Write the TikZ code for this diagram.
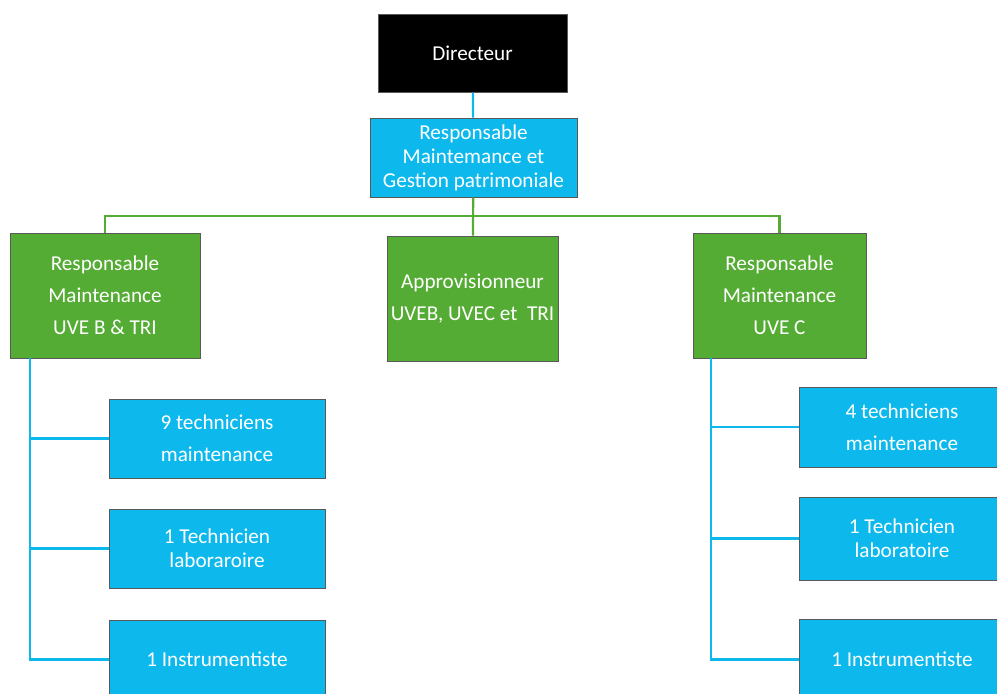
\documentclass[tikz,border=0pt]{standalone}
\usepackage{fontspec}
\setmainfont{Carlito}
\usepackage{tikz}

\definecolor{bleu}{HTML}{0DB9EC}
\definecolor{vert}{HTML}{55AC34}

\begin{document}
\begin{tikzpicture}[% unités en pixels du modèle
    x=0.5pt,y=-0.5pt,
    boite/.style={
        draw=black!65,
        line width=0.5pt,
        text=white,
        align=center,
        inner sep=0pt,
        font=\fontsize{10.6}{12}\selectfont
      },
    bleue/.style={boite, fill=bleu},
    bleuelarge/.style={bleue, font=\fontsize{10.6}{16}\selectfont},
    verte/.style={boite, fill=vert, font=\fontsize{10.6}{16}\selectfont},
    lienvert/.style={draw=vert, line width=1.1pt},
    lienbleu/.style={draw=bleu, line width=1.1pt}
  ]

  % cadre
  \useasboundingbox (0,0) rectangle (997,693);
  \clip (0,0) rectangle (997,693);

  % direction
  \node[boite, fill=black, minimum width=94.5pt, minimum height=39pt]
    (dir) at (472.5,53) {Directeur};
  \node[bleue, minimum width=103.5pt, minimum height=39.5pt]
    (resp) at (473.5,157.5) {Responsable\\Maintemance et\\Gestion patrimoniale};

  % responsables
  \node[verte, minimum width=95pt, minimum height=62.5pt]
    (rmB) at (105,295.5) {Responsable\\Maintenance\\UVE B \& TRI};
  \node[verte, minimum width=85.5pt, minimum height=62.5pt]
    (appro) at (472.5,298.5) {Approvisionneur\\UVEB, UVEC et\ \ TRI};
  \node[verte, minimum width=86.5pt, minimum height=62.5pt]
    (rmC) at (779.5,295.5) {Responsable\\Maintenance\\UVE C};

  % équipe UVE B
  \node[bleuelarge, minimum width=108pt, minimum height=39.5pt]
    (techB) at (217,438.5) {9 techniciens\\maintenance};
  \node[bleue, minimum width=108pt, minimum height=39.5pt]
    (laboB) at (217,548.5) {1 Technicien\\laboraroire};
  \node[bleue, minimum width=108pt, minimum height=39.5pt]
    (instB) at (217,659.5) {1 Instrumentiste};

  % équipe UVE C
  \node[bleuelarge, minimum width=103pt, minimum height=40pt]
    (techC) at (902,427) {4 techniciens\\maintenance};
  \node[bleue, minimum width=103pt, minimum height=41.5pt]
    (laboC) at (902,538.5) {1 Technicien\\laboratoire};
  \node[bleue, minimum width=103pt, minimum height=40pt]
    (instC) at (902,659.5) {1 Instrumentiste};

  % liaisons
  \draw[lienbleu] (dir) -- (resp);
  \coordinate (bus) at (473,216);
  \draw[lienvert] (resp) -- (appro);
  \draw[lienvert] (rmB.north) |- (bus) -| (rmC.north);

  \coordinate (brasB) at (30,358);
  \draw[lienbleu] (brasB) |- (techB.west);
  \draw[lienbleu] (brasB) |- (laboB.west);
  \draw[lienbleu] (brasB) |- (instB.west);

  \coordinate (brasC) at (711,358);
  \draw[lienbleu] (brasC) |- (techC.west);
  \draw[lienbleu] (brasC) |- (laboC.west);
  \draw[lienbleu] (brasC) |- (instC.west);

\end{tikzpicture}
\end{document}
